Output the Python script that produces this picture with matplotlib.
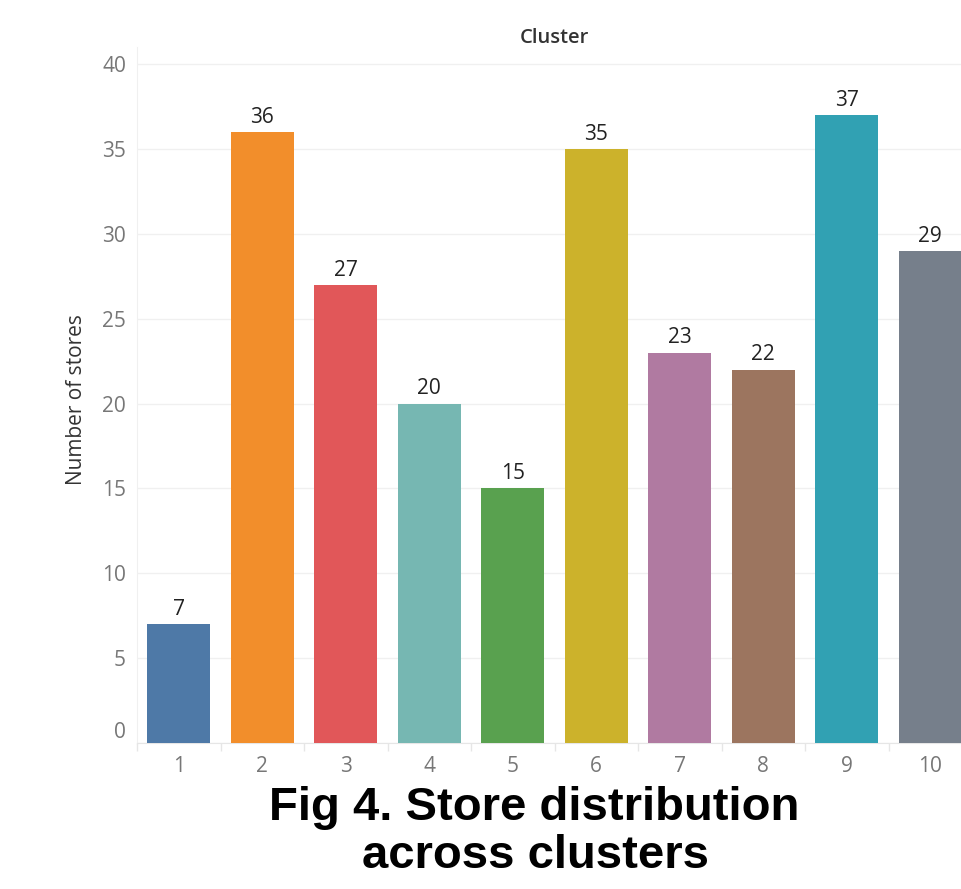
import matplotlib
matplotlib.use("Agg")
import matplotlib.pyplot as plt
import matplotlib.transforms as mtransforms
import numpy as np

clusters = ["1", "2", "3", "4", "5", "6", "7", "8", "9", "10"]
stores = [7, 36, 27, 20, 15, 35, 23, 22, 37, 29]
colors = ["#4E79A7", "#F28E2B", "#E15759", "#76B7B2", "#59A14F",
          "#CCB22B", "#B07AA1", "#9C755F", "#31A1B3", "#767F8B"]
y_ticks = [0, 5, 10, 15, 20, 25, 30, 35, 40]

W, H = 961, 889
fig = plt.figure(figsize=(W / 100, H / 100), dpi=100)
plt.rcParams["font.family"] = ["Open Sans", "DejaVu Sans"]

# plot area in pixels: left 137, slot width 83.5, zero at y=743, 40 at y=64
left, bottom_px, top_px = 137, 743, 47
slot = 83.5
ymax = (bottom_px - top_px) / ((743 - 64) / 40)
ax = fig.add_axes([left / W, (H - bottom_px) / H, slot * 10 / W, (bottom_px - top_px) / H])

x = np.arange(len(clusters))
ax.bar(x, stores, width=0.755, color=colors, zorder=3)
for xi, v in zip(x, stores):
    ax.annotate(str(v), (xi, v), xytext=(0, 3), textcoords="offset points",
                ha="center", va="bottom", fontsize=15, color="#222222", zorder=4)

ax.set_xlim(-0.5, len(clusters) - 0.5)
ax.set_ylim(0, ymax)
ax.set_yticks(y_ticks)
ax.set_xticks(x)
ax.set_xticklabels(clusters)
ax.set_xticks(np.arange(-0.5, len(clusters), 1), minor=True)
ax.tick_params(axis="x", which="major", length=0, labelsize=15, labelcolor="#777777", pad=9)
ax.tick_params(axis="x", which="minor", length=6, color="#e6e6e6", width=1)
ax.tick_params(axis="y", length=0, labelsize=15, labelcolor="#777777", pad=8)
ax.grid(axis="y", color="#f0f0f0", linewidth=1, zorder=0)

# lift the zero label so it sits above the baseline
zero_lbl = ax.get_yticklabels()[0]
zero_lbl.set_transform(zero_lbl.get_transform() +
                       mtransforms.ScaledTranslation(0, 13 / 100, fig.dpi_scale_trans))

for s in ["top", "right"]:
    ax.spines[s].set_visible(False)
ax.spines["left"].set_color("#f0f0f0")
ax.spines["bottom"].set_color("#e6e6e6")

fig.text(77 / W, 1 - 400 / H, "Number of stores", rotation=90, ha="center", va="center",
         fontsize=15, color="#333333")
fig.text(554 / W, 1 - 38 / H, "Cluster", ha="center", va="center",
         fontsize=14.5, fontweight="semibold", color="#333333")

cap_kw = dict(ha="center", va="baseline", fontsize=34, fontweight="bold",
              family=["Liberation Sans", "DejaVu Sans"], color="black")
fig.text(534 / W, 1 - 820 / H, "Fig 4. Store distribution", **cap_kw)
fig.text(535 / W, 1 - 868 / H, "across clusters", **cap_kw)

fig.savefig("out.png", dpi=100)
